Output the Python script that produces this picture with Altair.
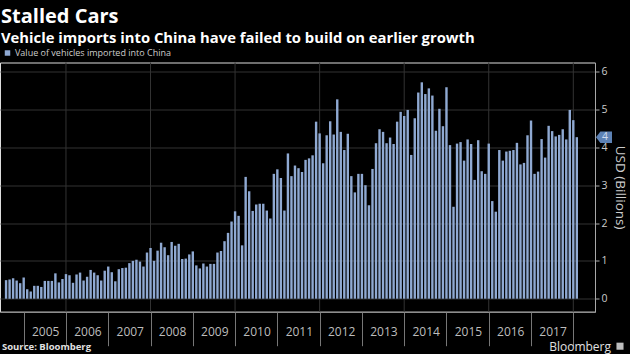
import altair as alt
import pandas as pd

# ---- data (monthly value of vehicles imported into China, USD billions) ----
first_month = "2004-07"
last_month = "2018-01"
values = [
    0.49, 0.51, 0.54, 0.48, 0.41, 0.56,                                  # 2004 Jul-Dec
    0.25, 0.19, 0.34, 0.34, 0.31, 0.47, 0.47, 0.47, 0.67, 0.43, 0.52, 0.65,  # 2005
    0.62, 0.42, 0.64, 0.69, 0.48, 0.58, 0.76, 0.69, 0.62, 0.48, 0.74, 0.85,  # 2006
    0.70, 0.46, 0.78, 0.81, 0.82, 0.94, 1.00, 1.03, 0.98, 0.85, 1.22, 1.34,  # 2007
    1.00, 1.27, 1.48, 1.36, 1.15, 1.50, 1.40, 1.45, 1.05, 1.06, 1.17, 1.25,  # 2008
    0.88, 0.80, 0.93, 0.85, 0.92, 0.92, 1.22, 1.26, 1.52, 1.74, 2.04, 2.31,  # 2009
    2.19, 1.41, 3.22, 2.84, 2.32, 2.49, 2.51, 2.51, 2.33, 2.12, 3.30, 3.42,  # 2010
    3.19, 2.33, 3.84, 3.24, 3.52, 3.45, 3.35, 3.67, 3.71, 3.79, 4.68, 4.37,  # 2011
    3.58, 4.32, 4.69, 4.34, 5.27, 4.41, 3.93, 4.36, 3.24, 2.81, 3.30, 3.30,  # 2012
    3.00, 2.47, 3.43, 4.11, 4.48, 4.41, 4.11, 4.26, 4.09, 4.68, 4.94, 4.83,  # 2013
    4.99, 3.80, 4.77, 5.45, 5.72, 5.41, 5.56, 5.37, 4.44, 5.02, 4.56, 5.59,  # 2014
    4.06, 2.43, 4.10, 4.14, 3.65, 4.21, 4.09, 3.14, 4.19, 3.37, 3.30, 4.10,  # 2015
    2.58, 2.30, 3.93, 3.65, 3.89, 3.91, 3.93, 4.12, 3.55, 3.59, 4.32, 4.71,  # 2016
    3.30, 3.36, 4.22, 3.73, 4.57, 4.43, 4.29, 4.33, 4.48, 4.21, 4.99, 4.72,  # 2017
    4.27,                                                                # 2018 Jan
]
tick_years = list(range(2005, 2019))
grid_years = [2006, 2008, 2010, 2012, 2014, 2016, 2018]
y_ticks = [0, 1, 2, 3, 4, 5, 6]

title_text = "Stalled Cars"
subtitle_text = "Vehicle imports into China have failed to build on earlier growth"
series_name = "Value of vehicles imported into China"
y_title = "USD (Billions)"
source_text = "Source: Bloomberg"
brand_text = "Bloomberg"

# ---- table ----
periods = pd.period_range(first_month, last_month, freq="M")
df = pd.DataFrame({
    "month": periods.astype(str),
    "value": values,
})
# bars sit at the end of their month
df["pos"] = periods.year + periods.month / 12.0
df["series"] = series_name

# ---- style ----
W, H = 595, 249.2
BAR = "#8fa9d2"
GRID = "#333333"
FONT = "Open Sans"

xscale = alt.Scale(domain=[2004.558, 2018.395], nice=False, zero=False)
yscale = alt.Scale(domain=[-0.344, 6.244], nice=False, zero=False)

xaxis = alt.Axis(
    values=tick_years,
    labelExpr="datum.value < 2018 ? toString(datum.value) : ''",
    grid=False, tickSize=34, tickColor="#777777", domainColor="#888888",
    labelOffset=21.5, labelPadding=-19, labelFontSize=12, labelColor="#bdbdbd",
    labelFont=FONT, labelOverlap=False, labelFlush=False, title=None,
)
yaxis = alt.Axis(
    orient="right", values=y_ticks, grid=True, gridColor=GRID,
    domainColor="#a8a8a8", tickColor="#a8a8a8", tickSize=4, labelPadding=2,
    labelFontSize=10.5, labelColor="#cccccc", labelFont=FONT,
    title=y_title, titleFontSize=13.5, titleFontWeight="normal", titleColor="#cccccc",
    titleFont=FONT, titlePadding=5, titleAngle=90,
)

gridx = alt.Chart(pd.DataFrame({"yr": grid_years})).mark_rule(
    color=GRID, strokeWidth=1
).encode(
    x=alt.X("yr:Q", scale=xscale, axis=xaxis, title=None),
    y=alt.value(0), y2=alt.value(H),
)

bars = alt.Chart(df).mark_bar(size=2.4).encode(
    x=alt.X("pos:Q", scale=xscale, axis=xaxis, title=None),
    y=alt.Y("value:Q", scale=yscale, axis=yaxis, title=y_title),
    y2=alt.datum(0),
    color=alt.Color("series:N", scale=alt.Scale(range=[BAR]), legend=alt.Legend(
        orient="none", legendX=3, legendY=-14, title=None, symbolType="square",
        symbolSize=30, symbolStrokeWidth=0, labelFontSize=9, labelColor="#cccccc",
        labelFont=FONT, padding=0, labelOffset=3,
    )),
)

last = df.tail(1)
tag = alt.Chart(last).mark_point(
    shape="M -1 0 L -0.45 -0.72 L 1 -0.72 L 1 0.72 L -0.45 0.72 Z",
    filled=True, opacity=1, color="#5d82b5", size=256,
).encode(
    x=alt.value(604),
    y=alt.Y("value:Q", scale=yscale, axis=yaxis, title=y_title),
)
tag_text = alt.Chart(last).mark_text(
    font=FONT, fontSize=10.5, color="#d0dbee", align="center", baseline="middle", dx=1,
).encode(
    x=alt.value(604),
    y=alt.Y("value:Q", scale=yscale, axis=yaxis, title=y_title),
    text=alt.Text("value:Q", format=".0f"),
)

texts = pd.DataFrame({
    "t": [title_text, subtitle_text, source_text, brand_text],
    "kind": ["title", "subtitle", "source", "brand"],
})
title = alt.Chart(texts[texts.kind == "title"]).mark_text(
    font=FONT, fontSize=20, fontWeight="bold", color="white", align="left", baseline="alphabetic",
).encode(x=alt.value(1), y=alt.value(-39.5), text="t:N")
subtitle = alt.Chart(texts[texts.kind == "subtitle"]).mark_text(
    font=FONT, fontSize=14.8, fontWeight="bold", color="white", align="left", baseline="alphabetic",
).encode(x=alt.value(1), y=alt.value(-19.5), text="t:N")
source = alt.Chart(texts[texts.kind == "source"]).mark_text(
    font=FONT, fontSize=9.5, fontWeight="bold", color="#e0e0e0", align="left", baseline="alphabetic",
).encode(x=alt.value(2), y=alt.value(H + 38.5), text="t:N")
brand = alt.Chart(texts[texts.kind == "brand"]).mark_text(
    font=FONT, fontSize=12, color="#e0e0e0", align="right", baseline="alphabetic",
).encode(x=alt.value(611), y=alt.value(H + 39), text="t:N")
icon = alt.Chart(texts[texts.kind == "brand"]).mark_point(
    shape="square", filled=True, color="#bdbdbd", size=50, opacity=1,
).encode(x=alt.value(620), y=alt.value(H + 34.5))

chart = alt.layer(
    gridx, bars, tag, tag_text, title, subtitle, source, brand, icon
).properties(
    width=W, height=H,
    background="black",
    autosize=alt.AutoSizeParams(type="none"),
    padding={"left": 0, "top": 62.5, "right": 35, "bottom": 42.3},
).configure_view(stroke=None).configure(font=FONT)

chart.save("out.html", embed_options={"renderer": "svg", "actions": False})
